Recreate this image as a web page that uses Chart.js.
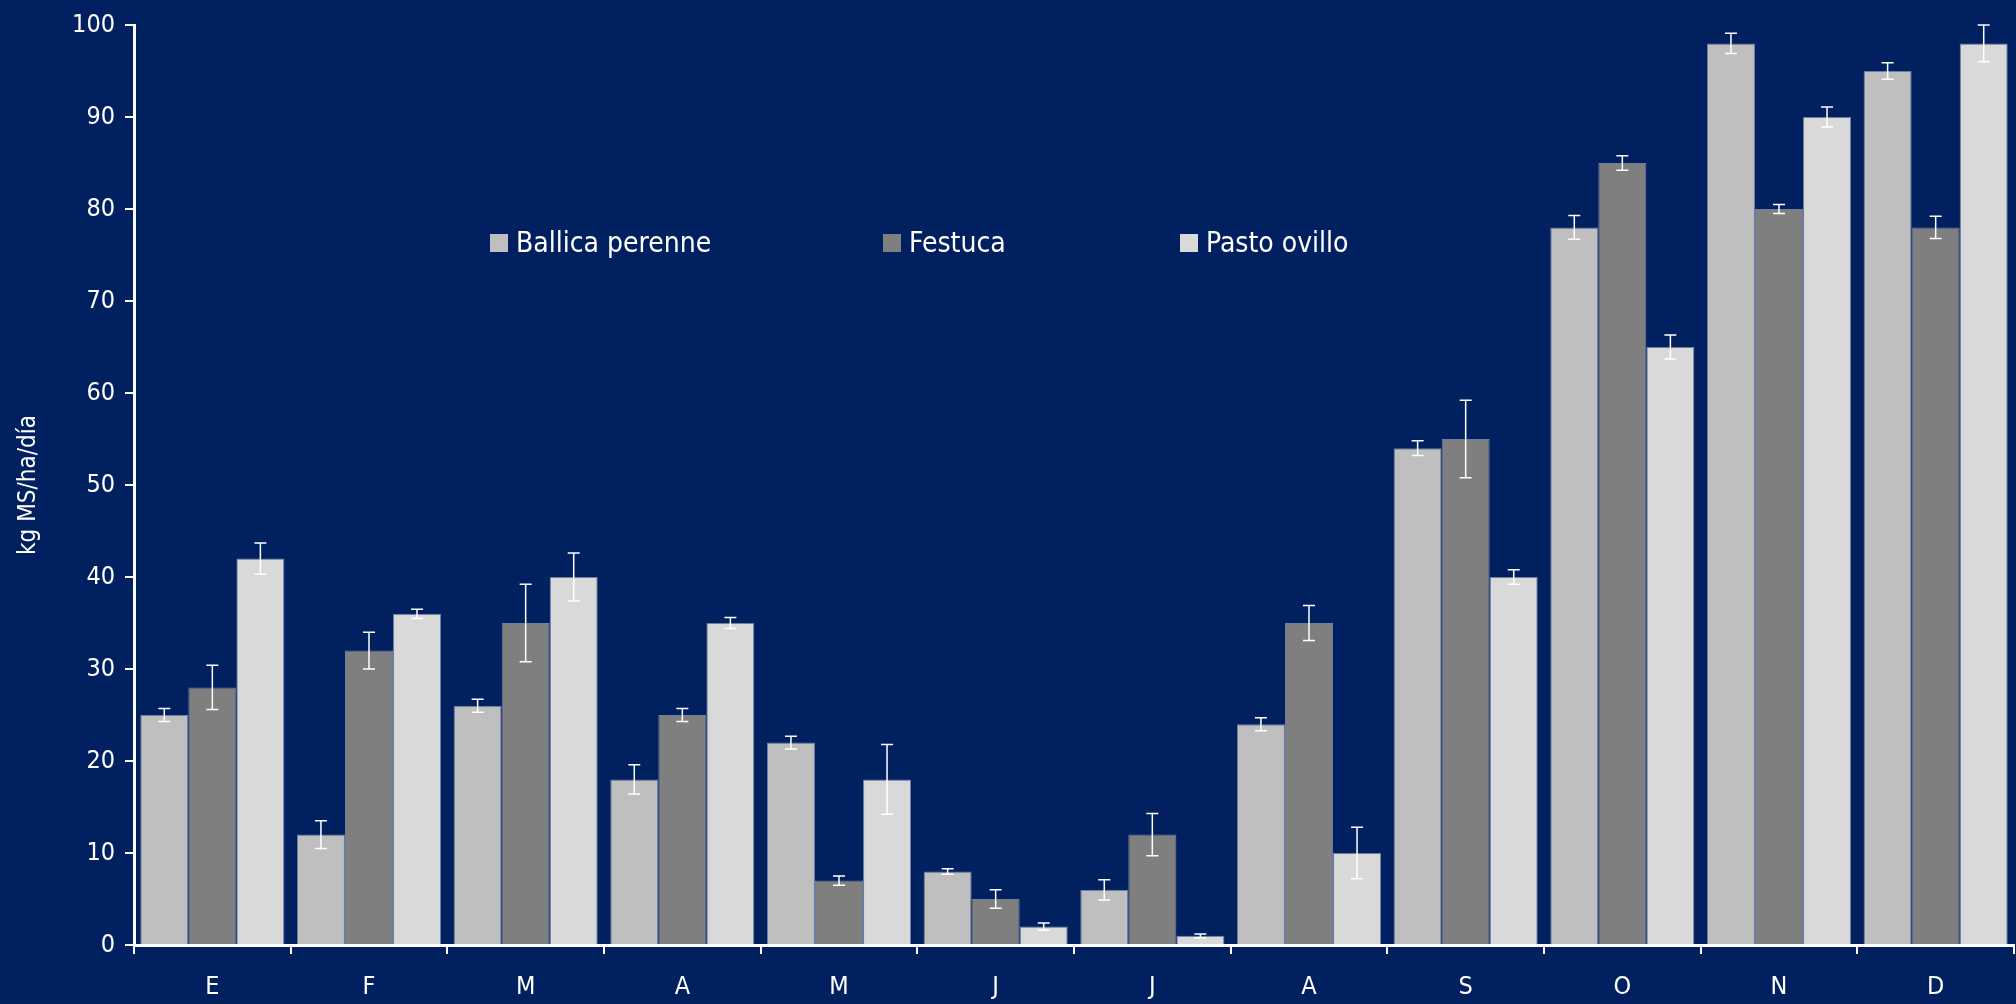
<!DOCTYPE html>
<html lang="es">
<head>
  <meta charset="UTF-8">
  <title>Tasa de crecimiento</title>
  <script src="https://cdn.jsdelivr.net/npm/chart.js"></script>
  <style>
    body {
      margin: 0;
      background: #002060;
      font-family: 'Liberation Sans Narrow', 'DejaVu Sans Condensed', sans-serif;
    }
    .wrap {
      position: relative;
      width: 2016px;
      height: 1004px;
    }
    .legend {
      position: absolute;
      top: 226px;
      color: #fff;
      font-size: 28px;
      display: flex;
      align-items: center;
      white-space: nowrap;
    }
    .legend span.box {
      display: inline-block;
      width: 18px;
      height: 18px;
      margin-right: 8px;
    }
  </style>
</head>
<body>
<div class="wrap">
  <canvas id="chart" width="2016" height="1004"></canvas>
  <div class="legend" style="left:490px"><span class="box" style="background:#BFBFBF"></span>Ballica perenne</div>
  <div class="legend" style="left:883px"><span class="box" style="background:#7F7F7F"></span>Festuca</div>
  <div class="legend" style="left:1180px"><span class="box" style="background:#D9D9D9"></span>Pasto ovillo</div>
</div>

<script>
  const months = ["E", "F", "M", "A", "M", "J", "J", "A", "S", "O", "N", "D"];

  const ballica = [25, 12, 26, 18, 22, 8, 6, 24, 54, 78, 98, 95];
  const festuca = [28, 32, 35, 25, 7, 5, 12, 35, 55, 85, 80, 78];
  const pasto   = [42, 36, 40, 35, 18, 2, 1, 10, 40, 65, 90, 98];

  // error (+/-) read from the whiskers
  const ballicaErr = [0.7, 1.5, 0.7, 1.6, 0.7, 0.3, 1.1, 0.7, 0.8, 1.3, 1.1, 0.9];
  const festucaErr = [2.4, 2.0, 4.2, 0.7, 0.5, 1.0, 2.3, 1.9, 4.2, 0.8, 0.5, 1.2];
  const pastoErr   = [1.7, 0.5, 2.6, 0.6, 3.8, 0.4, 0.2, 2.8, 0.8, 1.3, 1.1, 2.0];

  const fontFam = "'Liberation Sans Narrow', 'DejaVu Sans Condensed', sans-serif";

  // draws the white whiskers on top of the bars
  const errorBars = {
    id: "errorBars",
    afterDatasetsDraw(chart) {
      const ctx = chart.ctx;
      const y = chart.scales.y;
      chart.data.datasets.forEach((ds, di) => {
        const meta = chart.getDatasetMeta(di);
        meta.data.forEach((bar, i) => {
          const v = ds.data[i], e = ds.errors[i];
          const top = y.getPixelForValue(v + e);
          const bot = y.getPixelForValue(v - e);
          ctx.save();
          ctx.strokeStyle = "#ffffff";
          ctx.lineWidth = 1.5;
          ctx.beginPath();
          ctx.moveTo(bar.x, top); ctx.lineTo(bar.x, bot);
          ctx.moveTo(bar.x - 6, top); ctx.lineTo(bar.x + 6, top);
          ctx.moveTo(bar.x - 6, bot); ctx.lineTo(bar.x + 6, bot);
          ctx.stroke();
          ctx.restore();
        });
      });
    }
  };

  function makeSet(label, data, errors, color) {
    return {
      label, data, errors,
      backgroundColor: color,
      borderColor: "#6f7fa0",
      borderWidth: 1,
      barPercentage: 1.0,
      categoryPercentage: 0.92
    };
  }

  new Chart(document.getElementById("chart"), {
    type: "bar",
    data: {
      labels: months,
      datasets: [
        makeSet("Ballica perenne", ballica, ballicaErr, "#BFBFBF"),
        makeSet("Festuca", festuca, festucaErr, "#7F7F7F"),
        makeSet("Pasto ovillo", pasto, pastoErr, "#D9D9D9")
      ]
    },
    options: {
      responsive: false,
      animation: false,
      layout: { padding: { top: 14, right: 2, left: 0, bottom: 0 } },
      plugins: {
        legend: { display: false },
        tooltip: { enabled: false }
      },
      scales: {
        x: {
          grid: { drawOnChartArea: false, color: "#ffffff", lineWidth: 2, tickLength: 9 },
          border: { color: "#ffffff", width: 3 },
          ticks: { color: "#ffffff", font: { family: fontFam, size: 25 }, padding: 18 },
          afterFit(s) { s.height = 59; }
        },
        y: {
          min: 0,
          max: 100,
          ticks: { stepSize: 10, color: "#ffffff", font: { family: fontFam, size: 25 }, padding: 10 },
          grid: { drawOnChartArea: false, color: "#ffffff", lineWidth: 2, tickLength: 9 },
          border: { color: "#ffffff", width: 3 },
          title: {
            display: true,
            text: "kg MS/ha/día",
            color: "#ffffff",
            font: { family: fontFam, size: 24 },
            padding: { top: 14, bottom: 0 }
          },
          afterFit(s) { s.width = 134; }
        }
      }
    },
    plugins: [errorBars]
  });
</script>
</body>
</html>
